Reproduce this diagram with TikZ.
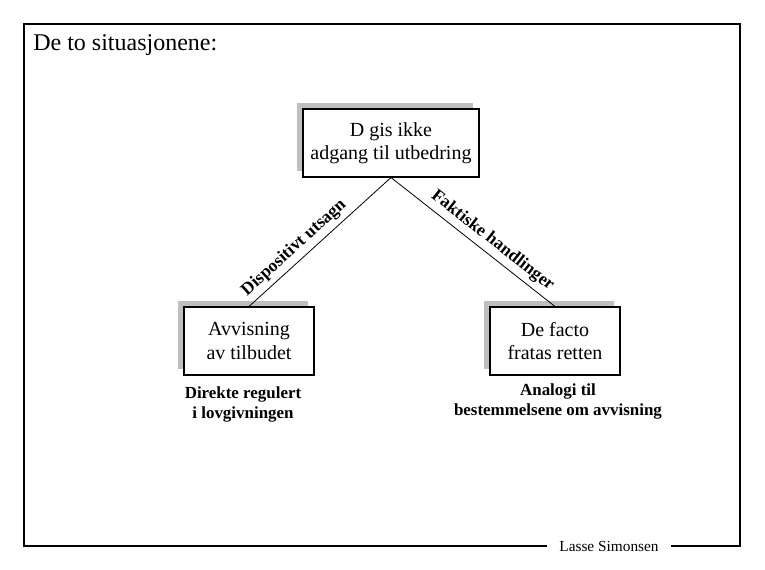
\documentclass[tikz,border=0pt]{standalone}
\usepackage{fontspec}
\setmainfont{Liberation Serif}

\tikzset{
  boxtxt/.style={draw=black, fill=white, line width=0.8pt, align=center, inner sep=0pt,
    font=\fontsize{15}{17.5}\selectfont},
  shadow/.style={fill=black!25, inner sep=0pt},
  bigbox/.style={minimum width=132pt, minimum height=51pt},
  smallbox/.style={minimum width=97.5pt, minimum height=51pt},
  linelab/.style={sloped, above, inner sep=3.5pt, font=\bfseries\fontsize{13.2}{15}\selectfont},
  note/.style={align=center, inner sep=0pt, font=\bfseries\fontsize{12.7}{15}\selectfont}
}

\begin{document}
\begin{tikzpicture}[x=0.75pt, y=-0.75pt]
      \useasboundingbox (0,0) rectangle (765,570);
      % frame
      \draw[line width=0.8pt] (24,24) rectangle (740,546);
      \node[fill=white, inner xsep=9pt, inner ysep=1pt, font=\fontsize{11.5}{13}\selectfont] (author) at (609,546) {Lasse Simonsen};
      \node[anchor=west, inner sep=0pt, font=\fontsize{18}{21}\selectfont] (title) at (33,45) {De to situasjonene:};
      % boxes
      \node[shadow, bigbox] (top-sh) at (385,137) {};
      \node[boxtxt, bigbox] (top) at (391,143) {D gis ikke\\adgang til utbedring};
      \node[shadow, smallbox] (left-sh) at (243,335) {};
      \node[boxtxt, smallbox] (left) at (249,341) {Avvisning\\av tilbudet};
      \node[shadow, smallbox] (right-sh) at (549,335) {};
      \node[boxtxt, smallbox] (right) at (555,341) {De facto\\fratas retten};
      % notes
      \node[note] (left-note) at (243,404) {Direkte regulert\\i lovgivningen};
      \node[note] (right-note) at (558,401) {Analogi til\\bestemmelsene om avvisning};
      % connectors
      \draw[-, line width=0.6pt] (top.south) to node[linelab, pos=0.62] {Dispositivt utsagn} (left.north);
      \draw[-, line width=0.6pt] (top.south) to node[linelab, pos=0.57] {Faktiske handlinger} (right.north);
\end{tikzpicture}
\end{document}
